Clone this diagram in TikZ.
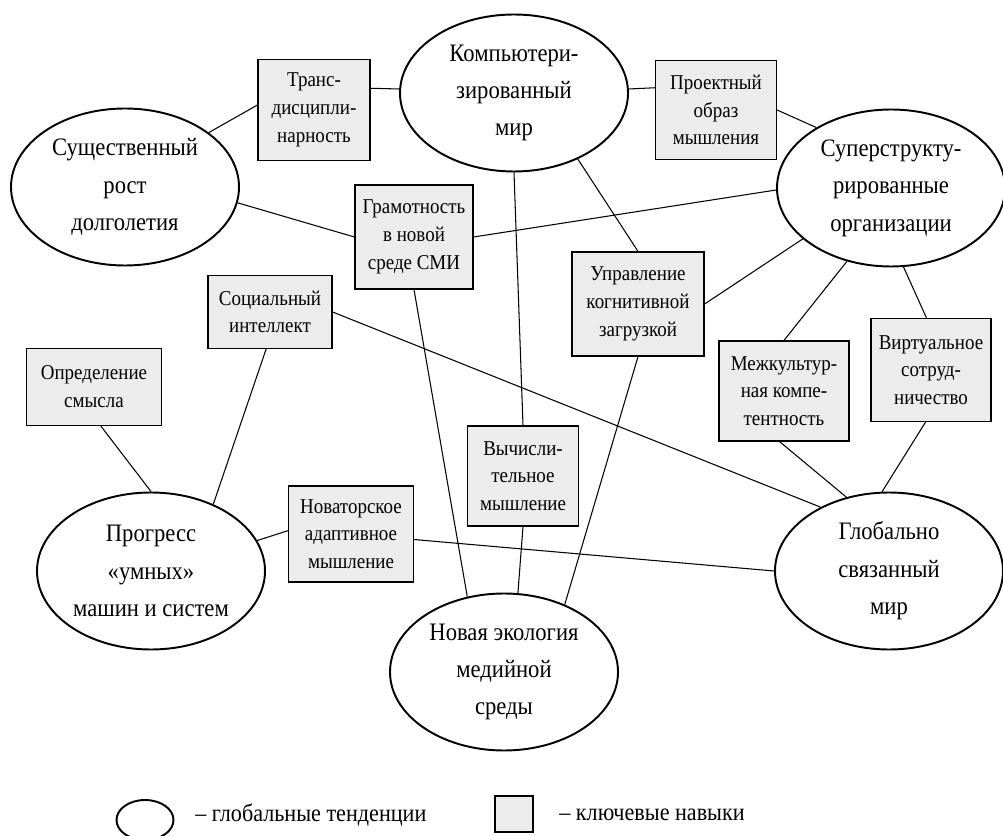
\documentclass[tikz,border=0pt]{standalone}
\usepackage{fontspec}
\setmainfont{Liberation Serif}[FakeStretch=0.9]
\usetikzlibrary{shapes.geometric}

\begin{document}
\begin{tikzpicture}
[
	trend/.style={ellipse,draw,line width=1.1pt,inner sep=0pt,minimum width=45.6mm,minimum height=31.4mm,align=center,font=\fontsize{14.3}{21.3}\selectfont},
	skill/.style={rectangle,draw,fill=gray!15,line width=0.7pt,inner sep=0pt,align=center,font=\fontsize{12}{15.8}\selectfont},
	link/.style={line width=0.6pt},
	x=0.2mm,
	y=0.2mm
]

	\useasboundingbox (0,0) rectangle (1003,835);

	% global trends
	\node[trend] (komp) at (514,742) {Компьютери-\\зированный\\мир};
	\node[trend] (sush) at (125,648) {Существенный\\рост\\долголетия};
	\node[trend] (super) at (891,647) {Суперструкту-\\рированные\\организации};
	\node[trend] (progress) at (151,264) {Прогресс\\«умных»\\машин и систем};
	\node[trend] (novaya) at (504,163) {Новая экология\\медийной\\среды};
	\node[trend] (global) at (889,264) {Глобально\\связанный\\мир};

	% key skills
	\node[skill,minimum width=22.4mm,minimum height=20.2mm] (trans) at (314,725) {Транс-\\дисципли-\\нарность};
	\node[skill,minimum width=24.2mm,minimum height=19.8mm] (proekt) at (716,725) {Проектный\\образ\\мышления};
	\node[skill,minimum width=23.6mm,minimum height=20.8mm] (gramot) at (414,598) {Грамотность\\в новой\\среде СМИ};
	\node[skill,minimum width=24.8mm,minimum height=14.6mm] (social) at (270,523) {Социальный\\интеллект};
	\node[skill,minimum width=27mm,minimum height=15.4mm] (opred) at (94,448) {Определение\\смысла};
	\node[skill,minimum width=26.4mm,minimum height=20.8mm] (uprav) at (638,531) {Управление\\когнитивной\\загрузкой};
	\node[skill,minimum width=26mm,minimum height=20mm] (mezh) at (784,444) {Межкультур-\\ная компе-\\тентность};
	\node[skill,minimum width=24mm,minimum height=20.6mm] (virt) at (931,465) {Виртуальное\\сотруд-\\ничество};
	\node[skill,minimum width=22.2mm,minimum height=20mm] (vych) at (523,359) {Вычисли-\\тельное\\мышление};
	\node[skill,minimum width=25mm,minimum height=19.2mm] (novator) at (351,301) {Новаторское\\адаптивное\\мышление};

	% links
	\draw[link] (trans.21) -- (komp.178);
	\draw[link] (trans.175) -- (sush.33);
	\draw[link] (komp.2) -- (proekt.160);
	\draw[link] (proekt.east) -- (super.141);
	\draw[link] (sush.-8) -- (gramot.west);
	\draw[link] (gramot.east) -- (super.181);
	\draw[link] (gramot.south) -- (novaya.116);
	\draw[link] (social.east) -- (global.137);
	\draw[link] (social.-96) -- (progress.47);
	\draw[link] (opred.-80) -- (progress.north);
	\draw[link] (komp.south) -- (vych.north);
	\draw[link] (vych.south) -- (novaya.80);
	\draw[link] (komp.-46) -- (uprav.north);
	\draw[link] (uprav.east) -- (super.210);
	\draw[link] (uprav.south) -- (novaya.48);
	\draw[link] (super.239) -- (mezh.north);
	\draw[link] (super.-81) -- (virt.95);
	\draw[link] (mezh.-95) -- (global.120);
	\draw[link] (virt.-96) -- (global.95);
	\draw[link] (novator.177) -- (progress.16);
	\draw[link] (novator.-5) -- (global.west);

	% legend
	\node[trend,minimum width=11.4mm,minimum height=8mm] (keytrend) at (145,15) {};
	\node[anchor=west,inner sep=0pt,font=\fontsize{14}{17}\selectfont] (keytrendtext) at (195,20) {– глобальные тенденции};
	\node[skill,minimum width=7.6mm,minimum height=7.2mm] (keyskill) at (514,21) {};
	\node[anchor=west,inner sep=0pt,font=\fontsize{14}{17}\selectfont] (keyskilltext) at (559,20) {– ключевые навыки};

\end{tikzpicture}
\end{document}
